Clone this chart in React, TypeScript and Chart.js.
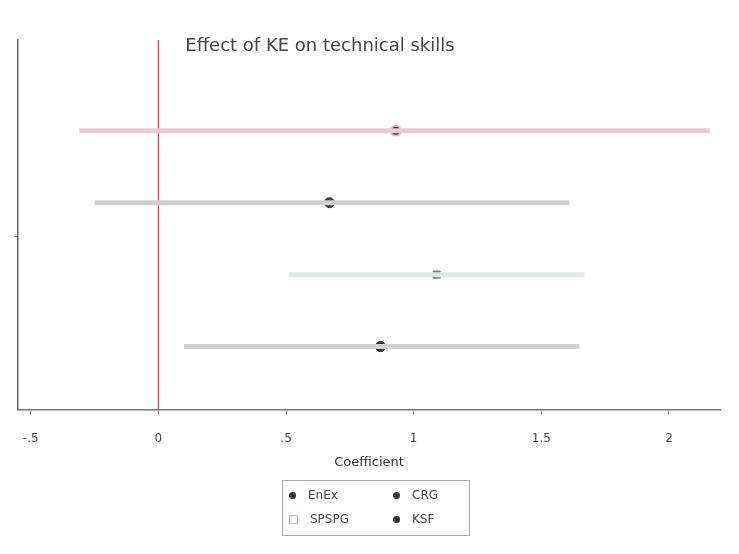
import React, { useEffect, useRef } from "react";
import { Chart, registerables } from "chart.js";
Chart.register(...registerables);

const seriesNames = ["EnEx", "CRG", "SPSPG", "KSF"];
const coefs = [0.93, 0.67, 1.09, 0.87];
const lowers = [-0.31, -0.25, 0.51, 0.1];
const uppers = [2.16, 1.61, 1.67, 1.65];
const rows = [1, 2, 3, 4];
const xTicks = [-0.5, 0, 0.5, 1, 1.5, 2];
const xTickLabels = ["-.5", "0", ".5", "1", "1.5", "2"];

const lineColors = ["#e6cbd6", "#cfcfcf", "#e2e9e5", "#d3d3d3"];
const markerColors = ["#4a2c3c", "#3c3c3c", "#7c7c7c", "#303030"];
const markerStyles = ["circle", "circle", "rect", "circle"];

export default function App() {
  const ref = useRef<HTMLCanvasElement | null>(null);
  useEffect(() => {
    if (!ref.current) return;
    const datasets: any[] = [];
    seriesNames.forEach((name, i) => {
      datasets.push({
        type: "line",
        label: name + " CI",
        data: [
          { x: lowers[i], y: rows[i] },
          { x: uppers[i], y: rows[i] },
        ],
        borderColor: lineColors[i],
        borderWidth: 5,
        pointRadius: 0,
        showLine: true,
      });
    });
    datasets.push({
      type: "line",
      label: "zero",
      data: [
        { x: 0, y: -0.26 },
        { x: 0, y: 4.875 },
      ],
      borderColor: "#c0506a",
      borderWidth: 1,
      pointRadius: 0,
      showLine: true,
    });
    seriesNames.forEach((name, i) => {
      datasets.push({
        type: "scatter",
        label: name,
        data: [{ x: coefs[i], y: rows[i] }],
        backgroundColor: markerColors[i],
        borderColor: i === 0 ? "#e8b6cc" : markerColors[i],
        borderWidth: i === 0 ? 2 : 1,
        pointStyle: markerStyles[i],
        pointRadius: 5,
      });
    });
    const chart = new Chart(ref.current, {
      type: "scatter",
      data: { datasets },
      options: {
        animation: false,
        responsive: false,
        layout: { padding: { left: 14, right: 19, top: 40, bottom: 91 } },
        plugins: {
          legend: { display: false },
          tooltip: { enabled: false },
          title: { display: false },
        },
        scales: {
          x: {
            type: "linear",
            min: -0.55,
            max: 2.2,
            afterBuildTicks: (axis: any) => {
              axis.ticks = xTicks.map((v) => ({ value: v }));
            },
            ticks: {
              color: "#444",
              font: { family: "DejaVu Sans", size: 12 },
              padding: 17,
              callback: (v: any) => {
                const idx = xTicks.indexOf(Number(v));
                return idx >= 0 ? xTickLabels[idx] : "";
              },
            },
            grid: { drawOnChartArea: false, drawTicks: true, tickLength: 5, color: "#888" },
            border: { color: "#777", width: 1.5 },
          },
          y: {
            type: "linear",
            reverse: true,
            min: -0.26,
            max: 4.875,
            afterBuildTicks: (axis: any) => {
              axis.ticks = [{ value: 2.47 }];
            },
            ticks: { display: true, callback: () => "", padding: 0 },
            grid: { drawOnChartArea: false, drawTicks: true, tickLength: 4, color: "#888" },
            border: { color: "#666", width: 1.5 },
          },
        },
      },
    });
    return () => chart.destroy();
  }, []);

  const legendItem = (i: number, left: number, top: number) => (
    <div
      style={{
        position: "absolute",
        left,
        top,
        display: "flex",
        alignItems: "center",
        fontFamily: "DejaVu Sans",
        fontSize: 12,
        color: "#444",
      }}
    >
      <span
        style={{
          display: "inline-block",
          width: 7,
          height: 7,
          borderRadius: i === 2 ? 0 : 4,
          background: i === 2 ? "#fff" : markerColors[i],
          border: i === 2 ? "1px solid #bbb" : "none",
          marginRight: 12,
        }}
      />
      {seriesNames[i]}
    </div>
  );

  return (
    <div style={{ position: "absolute", left: 0, top: 0, width: 739, height: 554, background: "#fff" }}>
      <canvas ref={ref} width={739} height={554} style={{ width: 739, height: 554 }} />
      <div
        style={{
          position: "absolute",
          left: 0,
          width: 640,
          top: 34,
          textAlign: "center",
          fontFamily: "DejaVu Sans",
          fontSize: 18,
          color: "#444",
        }}
      >
        Effect of KE on technical skills
      </div>
      <div
        style={{
          position: "absolute",
          left: 319,
          width: 100,
          top: 454,
          textAlign: "center",
          fontFamily: "DejaVu Sans",
          fontSize: 13,
          color: "#333",
        }}
      >
        Coefficient
      </div>
      <div
        style={{
          position: "absolute",
          left: 282,
          top: 480,
          width: 188,
          height: 56,
          border: "1.5px solid #aaa",
          boxSizing: "border-box",
        }}
      >
        {legendItem(0, 6, 7)}
        {legendItem(1, 110, 7)}
        {legendItem(2, 6, 31)}
        {legendItem(3, 110, 31)}
      </div>
    </div>
  );
}
